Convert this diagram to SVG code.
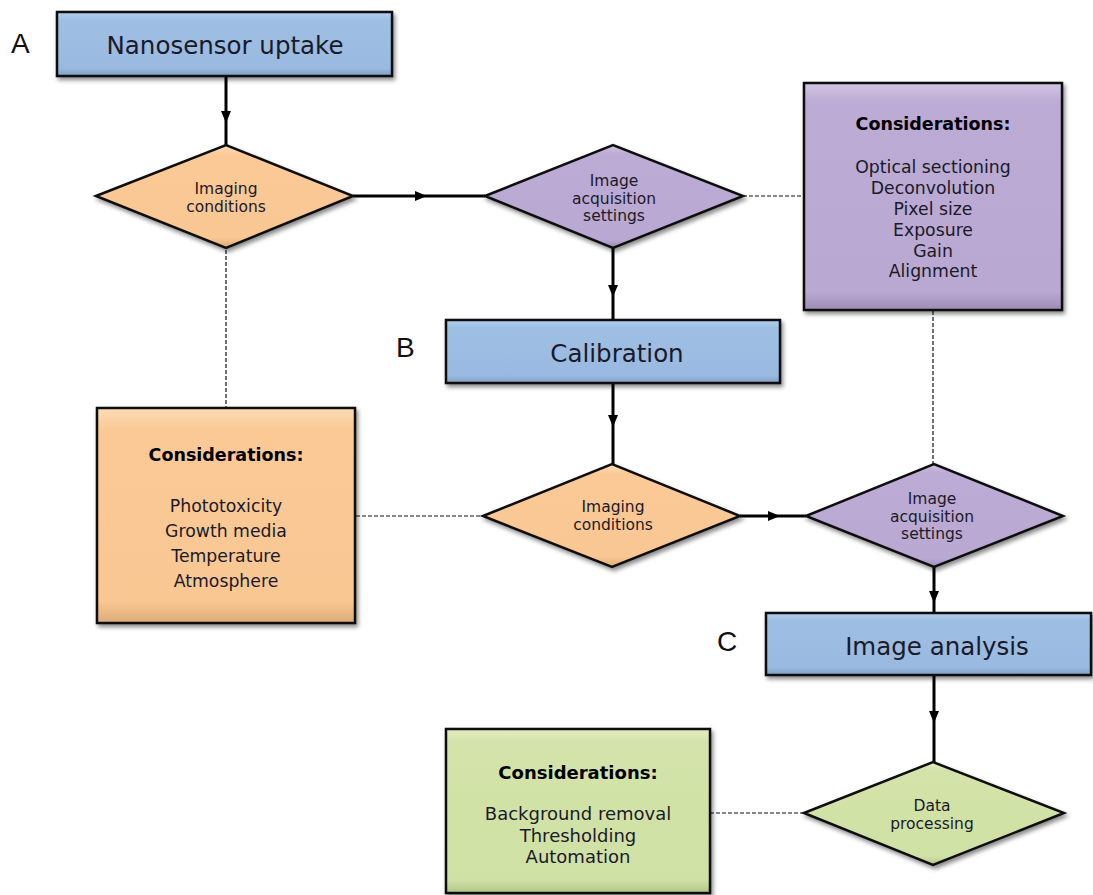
<svg xmlns="http://www.w3.org/2000/svg" width="1093" height="895" viewBox="0 0 1093 895">
<style>
  .box { stroke: #111; stroke-width: 2.5; filter: url(#shadow); }
  .blue { fill: url(#gBlue); }
  .orange { fill: url(#gOrange); }
  .purple { fill: url(#gPurple); }
  .green { fill: url(#gGreen); }
  .flow { fill: none; stroke: #000; stroke-width: 3; marker-mid: url(#arrow); }
  .dash { fill: none; stroke: #111; stroke-width: 1.2; stroke-dasharray: 4 2; }
  text { font-family: "DejaVu Sans", Verdana, sans-serif; fill: #1a1a28; text-anchor: middle; }
  .title { font-size: 24.5px; }
  .dtext { font-size: 15.5px; }
  .head { font-size: 17.5px; font-weight: bold; fill: #000; }
  .list { font-size: 17.3px; }
  .glist { font-size: 18px; }
  .ghead { font-size: 18px; font-weight: bold; fill: #000; }
  .letter { font-family: "Liberation Sans", Arial, sans-serif; font-size: 28px; fill: #111; text-anchor: start; }
</style>
<defs>
  <filter id="shadow" x="-10%" y="-10%" width="125%" height="125%">
    <feDropShadow dx="2" dy="3" stdDeviation="2" flood-color="#000" flood-opacity="0.45"/>
  </filter>
  <linearGradient id="gBlue" x1="0" y1="0" x2="0" y2="1">
    <stop offset="0" stop-color="#b3d0f0"/>
    <stop offset="0.12" stop-color="#9ebfe4"/>
    <stop offset="0.88" stop-color="#9ab9e0"/>
    <stop offset="1" stop-color="#7f9fc6"/>
  </linearGradient>
  <linearGradient id="gOrange" x1="0" y1="0" x2="0" y2="1">
    <stop offset="0" stop-color="#fddcb6"/>
    <stop offset="0.1" stop-color="#fac996"/>
    <stop offset="0.9" stop-color="#f9c792"/>
    <stop offset="1" stop-color="#ddab78"/>
  </linearGradient>
  <linearGradient id="gPurple" x1="0" y1="0" x2="0" y2="1">
    <stop offset="0" stop-color="#d3c6e6"/>
    <stop offset="0.08" stop-color="#bcabd4"/>
    <stop offset="0.92" stop-color="#b9a8d1"/>
    <stop offset="1" stop-color="#9d8cb6"/>
  </linearGradient>
  <linearGradient id="gGreen" x1="0" y1="0" x2="0" y2="1">
    <stop offset="0" stop-color="#e2eec4"/>
    <stop offset="0.08" stop-color="#d3e3a9"/>
    <stop offset="0.92" stop-color="#d0e1a5"/>
    <stop offset="1" stop-color="#b2c487"/>
  </linearGradient>
  <marker id="arrow" viewBox="0 0 12 10" refX="12" refY="5" markerWidth="12" markerHeight="10" markerUnits="userSpaceOnUse" orient="auto">
    <path d="M0,0 L12,5 L0,10 Z" fill="#000"/>
  </marker>
</defs>

<g id="connectors">
  <path class="flow" d="M226,76 L226,123 L226,145"/>
  <path class="flow" d="M353,196 L427,196 L485,196"/>
  <path class="flow" d="M613,248 L613,297 L613,320"/>
  <path class="flow" d="M613,383 L613,427 L613,464"/>
  <path class="flow" d="M740,516 L780,516 L806,516"/>
  <path class="flow" d="M934,567 L934,603 L934,613"/>
  <path class="flow" d="M934,675 L934,723 L934,762"/>
  <path class="dash" d="M743,196 L805,196"/>
  <path class="dash" d="M933,311 L933,464"/>
  <path class="dash" d="M226,250 L226,408"/>
  <path class="dash" d="M356,516 L483,516"/>
  <path class="dash" d="M710,813 L804,813"/>
</g>

<g id="labels">
  <text class="letter" x="11" y="53">A</text>
  <text class="letter" x="396" y="357">B</text>
  <text class="letter" x="717" y="651">C</text>
</g>

<g id="nanosensor-uptake">
  <rect class="box blue" x="57" y="12" width="335" height="64"/>
  <text class="title" x="225" y="54">Nanosensor uptake</text>
</g>

<g id="imaging-conditions-1">
  <polygon class="box orange" points="96,196 226,145 353,196 226,248"/>
  <text class="dtext" x="226" y="194">Imaging</text>
  <text class="dtext" x="226" y="212">conditions</text>
</g>

<g id="image-acquisition-1">
  <polygon class="box purple" points="485,196 613,145 743,196 613,248"/>
  <text class="dtext" x="614" y="186">Image</text>
  <text class="dtext" x="614" y="204">acquisition</text>
  <text class="dtext" x="614" y="221">settings</text>
</g>

<g id="considerations-acquisition">
  <rect class="box purple" x="804" y="83" width="258" height="227"/>
  <text class="head" x="933" y="130">Considerations:</text>
  <text class="list" x="933" y="173">Optical sectioning</text>
  <text class="list" x="933" y="194">Deconvolution</text>
  <text class="list" x="933" y="215">Pixel size</text>
  <text class="list" x="933" y="236">Exposure</text>
  <text class="list" x="933" y="257">Gain</text>
  <text class="list" x="933" y="277">Alignment</text>
</g>

<g id="calibration">
  <rect class="box blue" x="446" y="320" width="334" height="63"/>
  <text class="title" x="617" y="362">Calibration</text>
</g>

<g id="considerations-imaging">
  <rect class="box orange" x="97" y="408" width="258" height="215"/>
  <text class="head" x="226" y="461">Considerations:</text>
  <text class="list" x="226" y="512">Phototoxicity</text>
  <text class="list" x="226" y="537">Growth media</text>
  <text class="list" x="226" y="562">Temperature</text>
  <text class="list" x="226" y="587">Atmosphere</text>
</g>

<g id="imaging-conditions-2">
  <polygon class="box orange" points="483,516 612,464 740,516 612,567"/>
  <text class="dtext" x="613" y="512">Imaging</text>
  <text class="dtext" x="613" y="530">conditions</text>
</g>

<g id="image-acquisition-2">
  <polygon class="box purple" points="806,516 934,464 1063,516 934,567"/>
  <text class="dtext" x="932" y="504">Image</text>
  <text class="dtext" x="932" y="522">acquisition</text>
  <text class="dtext" x="932" y="539">settings</text>
</g>

<g id="image-analysis">
  <rect class="box blue" x="766" y="613" width="325" height="62"/>
  <text class="title" x="937" y="655">Image analysis</text>
</g>

<g id="data-processing">
  <polygon class="box green" points="804,813 933,762 1064,813 933,865"/>
  <text class="dtext" x="932" y="811">Data</text>
  <text class="dtext" x="932" y="829">processing</text>
</g>

<g id="considerations-analysis">
  <rect class="box green" x="446" y="729" width="264" height="164"/>
  <text class="ghead" x="578" y="779">Considerations:</text>
  <text class="glist" x="578" y="820">Background removal</text>
  <text class="glist" x="578" y="842">Thresholding</text>
  <text class="glist" x="578" y="863">Automation</text>
</g>
</svg>
